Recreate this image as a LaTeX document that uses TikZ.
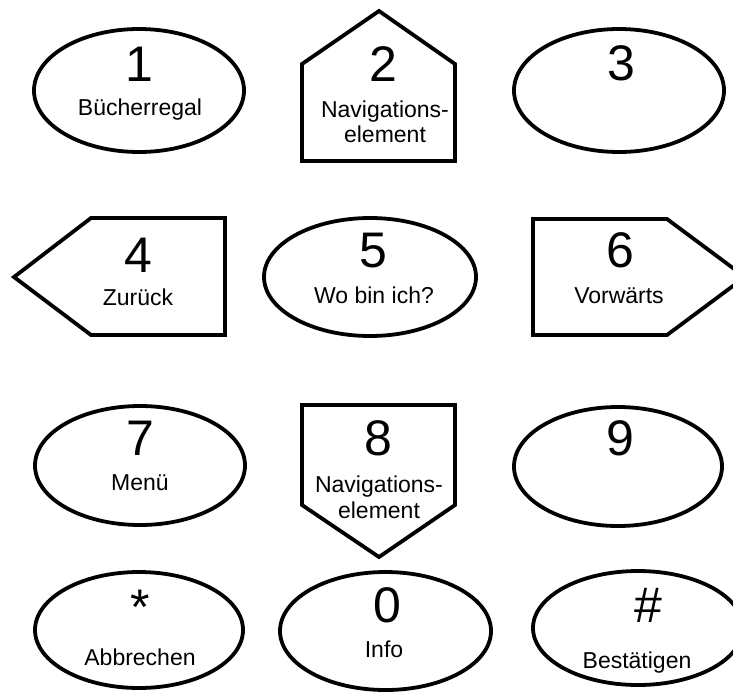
\documentclass[tikz,border=0pt]{standalone}
\usepackage{fontspec}
\setmainfont{Liberation Sans}
\usetikzlibrary{shapes.geometric}

\begin{document}
\begin{tikzpicture}[x=1pt,y=-1pt]
\tikzset{
  keyshape/.style={draw=black,line width=3.8pt,line join=miter},
  keyoval/.style={keyshape,ellipse,minimum width=210pt,minimum height=119pt,inner sep=0pt},
  keydigit/.style={font=\fontsize{50}{50}\selectfont,inner sep=0pt,anchor=center},
  keytext/.style={font=\fontsize{23}{25}\selectfont,inner sep=0pt,anchor=base}
}
\useasboundingbox (0,0) rectangle (733,694);
% ovals
\node[keyoval,minimum height=123pt] (k_1) at (139,90.5) {};
\node[keyoval,minimum height=123pt] (k_3) at (619,90.5) {};
\node[keyoval,minimum width=212pt,minimum height=118pt] (k_5) at (370,277) {};
\node[keyoval] (k_7) at (140,465.5) {};
\node[keyoval,minimum width=208pt] (k_9) at (618,466.5) {};
\node[keyoval,minimum width=208pt,minimum height=116pt] (k_star) at (139,630) {};
\node[keyoval,minimum width=211pt,minimum height=118pt] (k_0) at (385.5,631) {};
\node[keyoval,minimum height=114pt] (k_hash) at (638,628) {};
% arrow keys
\draw[keyshape] (302,161) -- (302,64) -- (379,11) -- (455,64) -- (455,161) -- cycle;
\draw[keyshape] (225,218) -- (91,218) -- (14,277) -- (91,335) -- (225,335) -- cycle;
\draw[keyshape] (533,219) -- (667,219) -- (745,277) -- (667,335) -- (533,335) -- cycle;
\draw[keyshape] (302,405) -- (455,405) -- (455,505) -- (379,557) -- (302,505) -- cycle;
% digits
\node[keydigit] (d_1) at (139,64) {1};
\node[keydigit] (d_2) at (383,64) {2};
\node[keydigit] (d_3) at (621,63.5) {3};
\node[keydigit] (d_4) at (138,255) {4};
\node[keydigit] (d_5) at (373,251) {5};
\node[keydigit] (d_6) at (620,250) {6};
\node[keydigit] (d_7) at (140,438.5) {7};
\node[keydigit] (d_8) at (378,438.5) {8};
\node[keydigit] (d_9) at (620,438.5) {9};
\node[keydigit,anchor=north] (d_star) at (140,590) {*};
\node[keydigit] (d_0) at (387,605) {0};
\node[keydigit] (d_hash) at (648,605) {\#};
% captions
\node[keytext] (l_1) at (140,115) {Bücherregal};
\node[keytext] (l_2a) at (385,117) {Navigations-};
\node[keytext] (l_2b) at (385,142) {element};
\node[keytext] (l_4) at (138,305) {Zurück};
\node[keytext] (l_5) at (374,303) {Wo bin ich?};
\node[keytext] (l_6) at (619,303) {Vorwärts};
\node[keytext] (l_7) at (140,490) {Menü};
\node[keytext] (l_8a) at (379,492) {Navigations-};
\node[keytext] (l_8b) at (379,518) {element};
\node[keytext] (l_star) at (140,665) {Abbrechen};
\node[keytext] (l_0) at (384,657) {Info};
\node[keytext] (l_hash) at (637,668) {Bestätigen};
\end{tikzpicture}
\end{document}
